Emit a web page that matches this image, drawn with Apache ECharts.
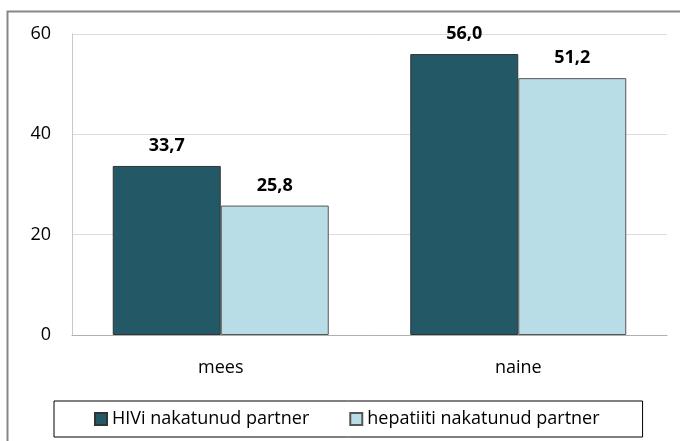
<!DOCTYPE html>
<html>
<head>
<meta charset="utf-8">
<script src="https://cdn.jsdelivr.net/npm/echarts@6/dist/echarts.min.js"></script>
<style>
  html, body { margin: 0; padding: 0; background: #fff; }
  #chart { width: 680px; height: 441px; }
</style>
</head>
<body>
<div id="chart"></div>
<script>
// andmed
const categories = ['mees', 'naine'];
const hivValues = [33.7, 56.0];
const hepValues = [25.8, 51.2];
const seriesNames = ['HIVi nakatunud partner', 'hepatiiti nakatunud partner'];

const chart = echarts.init(document.getElementById('chart'));
const fmt = p => p.value.toFixed(1).replace('.', ',');
const font = 'Open Sans';

const labelStyle = {
  show: true,
  position: 'top',
  distance: 11,
  formatter: fmt,
  fontFamily: font,
  fontWeight: 'bold',
  fontSize: 18,
  color: '#000'
};

chart.setOption({
  animation: false,
  graphic: [{
    type: 'polyline',
    shape: { points: [[7.5, 441], [7.5, 11.5], [680, 11.5]] },
    style: { stroke: '#878787', lineWidth: 2, fill: null }
  }],
  grid: { left: 72, right: 13, top: 34, bottom: 106 },
  legend: {
    bottom: 4,
    left: 54,
    itemWidth: 12,
    itemHeight: 12,
    itemGap: 40,
    padding: [9, 43, 9, 40],
    borderColor: '#000',
    borderWidth: 1,
    textStyle: { fontFamily: font, fontSize: 18, color: '#000' },
    data: seriesNames.map(n => ({ name: n, icon: 'rect' }))
  },
  xAxis: {
    type: 'category',
    data: categories,
    axisTick: { show: false },
    axisLine: { lineStyle: { color: '#b0b0b0' } },
    axisLabel: { margin: 24, fontFamily: font, fontSize: 18, color: '#000' }
  },
  yAxis: {
    type: 'value',
    min: 0,
    max: 60,
    interval: 20,
    axisLine: { show: true, lineStyle: { color: '#c8c8c8' } },
    axisLabel: { margin: 21, fontFamily: font, fontSize: 18, color: '#000' },
    splitLine: { lineStyle: { color: '#dcdcdc' } }
  },
  series: [
    {
      name: seriesNames[0],
      type: 'bar',
      data: hivValues,
      barWidth: 108,
      barGap: '0%',
      itemStyle: { color: '#235866', borderColor: '#333', borderWidth: 1 },
      label: labelStyle
    },
    {
      name: seriesNames[1],
      type: 'bar',
      data: hepValues,
      barWidth: 108,
      barGap: '0%',
      itemStyle: { color: '#b8dde7', borderColor: '#555', borderWidth: 1 },
      label: labelStyle
    }
  ]
});
</script>
</body>
</html>
